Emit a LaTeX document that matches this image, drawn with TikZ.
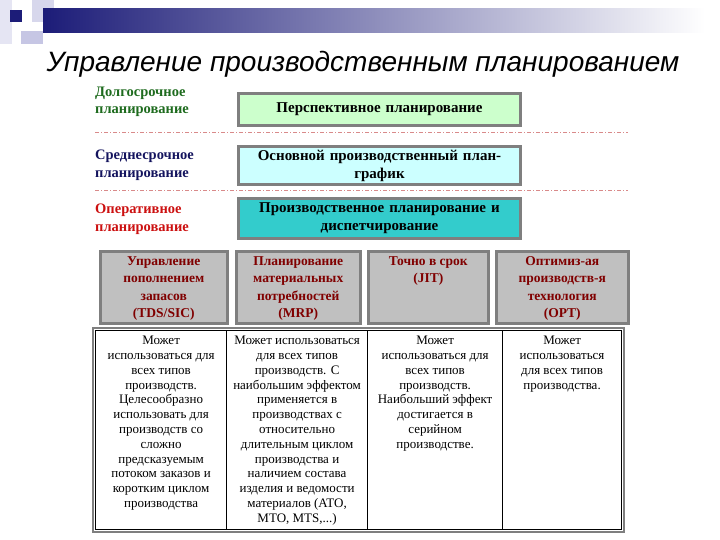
\documentclass[tikz,border=0pt]{standalone}
\usepackage{fontspec}
\setmainfont{Liberation Serif}
\newfontfamily\headfont{Liberation Sans}
\usetikzlibrary{positioning}
\definecolor{BarNavy}{HTML}{1C1C78}
\definecolor{DecoLilac}{HTML}{C6C6E4}
\definecolor{LongGreen}{HTML}{1E6B1E}
\definecolor{MidNavy}{HTML}{14145E}
\definecolor{OpRed}{HTML}{CC1010}
\definecolor{FrameGray}{HTML}{7F7F7F}
\definecolor{PaleGreen}{HTML}{CCFFCC}
\definecolor{PaleCyan}{HTML}{CCFFFF}
\definecolor{DeepTeal}{HTML}{33CCCC}
\definecolor{MethodGray}{HTML}{C0C0C0}
\definecolor{Maroon}{HTML}{800000}
\definecolor{DashRed}{HTML}{D98A8A}

\begin{document}
\begin{tikzpicture}[x=1pt, y=-1pt,
        % text of the three planning levels on the left
        level/.style     = {anchor=west, align=left, inner sep=0pt, font=\bfseries\fontsize{14.5}{17.5}\selectfont},
        % coloured boxes in the middle
        stagebox/.style  = {draw=FrameGray, line width=2.5pt, minimum width=282pt, text width=274pt,
                            align=center, inner sep=0pt, font=\bfseries\fontsize{15}{18}\selectfont},
        % grey method boxes and their text
        methodbox/.style = {draw=FrameGray, line width=2.5pt, fill=MethodGray, anchor=north west,
                            minimum height=72pt, inner sep=0pt},
        methodtext/.style= {text=Maroon, align=center, anchor=north, inner sep=0pt,
                            font=\bfseries\fontsize{13.5}{17.5}\selectfont},
        % table cells and their text
        cellbox/.style   = {draw=black, line width=1.2pt, anchor=north west, minimum height=199pt, inner sep=0pt},
        celltext/.style  = {align=center, anchor=north, inner sep=0pt, font=\fontsize{13}{14.8}\selectfont},
        divider/.style   = {draw=DashRed, line width=0.9pt, dash pattern=on 4pt off 2pt on 1pt off 2pt}
    ]
    \useasboundingbox (0,0) rectangle (720,540);

    % --- Slide decoration ---
    \fill[DecoLilac!45] (0,0) rectangle (12,44);
    \fill[DecoLilac!70] (32,0) rectangle (54,22);
    \fill[DecoLilac] (21,31) rectangle (43,44);
    \fill[BarNavy] (10,10) rectangle (22,22);
    \shade[left color=BarNavy, right color=white] (43,9) rectangle (705,33);

    \node[font=\headfont\itshape\fontsize{28}{30}\selectfont] (title) at (363,64)
        {Управление производственным планированием};

    % --- Planning levels ---
    \node[level, text=LongGreen] (long) at (95,102) {Долгосрочное\\планирование};
    \node[level, text=MidNavy] (mid) at (95,165) {Среднесрочное\\планирование};
    \node[level, text=OpRed] (oper) at (95,219) {Оперативное\\планирование};

    \node[stagebox, fill=PaleGreen, minimum height=32pt] (perspective) at (379.5,109.5)
        {Перспективное планирование};
    \node[stagebox, fill=PaleCyan, minimum height=38pt] (masterplan) at (379.5,165.5)
        {Основной производственный план-\\график};
    \node[stagebox, fill=DeepTeal, minimum height=40pt] (dispatch) at (379.5,218.5)
        {Производственное планирование и\\диспетчирование};

    % dashed separators
    \coordinate (sepA_l) at (95,132);
    \coordinate (sepA_r) at (628,132);
    \coordinate (sepB_l) at (95,190);
    \coordinate (sepB_r) at (628,190);
    \draw[divider] (sepA_l) -- (sepA_r);
    \draw[divider] (sepB_l) -- (sepB_r);

    % --- Methods ---
    \node[methodbox, minimum width=127pt] (tds) at (99,250) {};
    \node[methodbox, minimum width=124pt] (mrp) at (235,250) {};
    \node[methodbox, minimum width=120pt] (jit) at (367,250) {};
    \node[methodbox, minimum width=132pt] (opt) at (495,250) {};

    \node[methodtext] (tds_txt) at ([yshift=-6pt]tds.north) {Управление\\пополнением\\запасов\\(TDS/SIC)};
    \node[methodtext] (mrp_txt) at ([yshift=-6pt]mrp.north) {Планирование\\материальных\\потребностей\\(MRP)};
    \node[methodtext] (jit_txt) at ([yshift=-6pt]jit.north) {Точно в срок\\(JIT)};
    \node[methodtext] (opt_txt) at ([yshift=-6pt]opt.north) {Оптимиз-ая\\производств-я\\технология\\(OPT)};

    % --- Table of use ---
    \node[cellbox, minimum width=131pt] (use_tds) at (95,330) {};
    \node[cellbox, minimum width=141pt] (use_mrp) at (226,330) {};
    \node[cellbox, minimum width=135pt] (use_jit) at (367,330) {};
    \node[cellbox, minimum width=119pt] (use_opt) at (502,330) {};
    \draw[FrameGray, line width=1.5pt] ([shift={(-2pt,2pt)}]use_tds.north west) rectangle ([shift={(2pt,-2pt)}]use_opt.south east);

    \node[celltext] (use_tds_txt) at ([yshift=-6pt]use_tds.north)
        {Может\\использоваться для\\всех типов\\производств.\\Целесообразно\\использовать для\\производств со\\сложно\\предсказуемым\\потоком заказов и\\коротким циклом\\производства};
    \node[celltext] (use_mrp_txt) at ([yshift=-6pt]use_mrp.north)
        {Может использоваться\\для всех типов\\производств. С\\наибольшим эффектом\\применяется в\\производствах с\\относительно\\длительным циклом\\производства и\\наличием состава\\изделия и ведомости\\материалов (ATO,\\MTO, MTS,...)};
    \node[celltext] (use_jit_txt) at ([yshift=-6pt]use_jit.north)
        {Может\\использоваться для\\всех типов\\производств.\\Наибольший эффект\\достигается в\\серийном\\производстве.};
    \node[celltext] (use_opt_txt) at ([yshift=-6pt]use_opt.north)
        {Может\\использоваться\\для всех типов\\производства.};

\end{tikzpicture}
\end{document}
